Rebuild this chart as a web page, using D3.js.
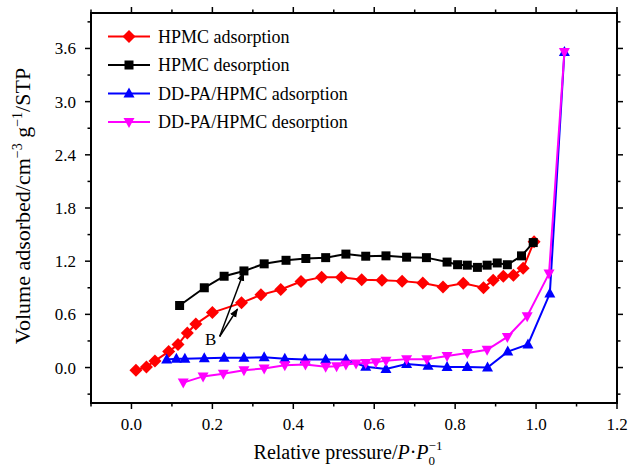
<!DOCTYPE html>
<html>
<head>
<meta charset="utf-8">
<script src="https://cdn.jsdelivr.net/npm/d3@7"></script>
<style>
  body { margin: 0; background: #fff; }
  svg text { font-family: "Liberation Serif", "Times New Roman", serif; }
</style>
</head>
<body>
<div id="chart"></div>
<script>
// relative pressure (x) and volume adsorbed (y)
const hpmcAdsX = [0.011, 0.037, 0.058, 0.092, 0.115, 0.138, 0.159, 0.2, 0.272, 0.32, 0.369, 0.419, 0.47, 0.519, 0.569, 0.619, 0.669, 0.72, 0.77, 0.82, 0.87, 0.894, 0.919, 0.944, 0.968, 0.995];
const hpmcAdsY = [-0.03, 0.007, 0.075, 0.18, 0.26, 0.39, 0.49, 0.62, 0.73, 0.82, 0.88, 0.97, 1.02, 1.02, 0.99, 0.985, 0.975, 0.955, 0.91, 0.95, 0.90, 0.985, 1.03, 1.04, 1.12, 1.42];

const hpmcDesX = [0.119, 0.18, 0.229, 0.278, 0.328, 0.382, 0.431, 0.48, 0.53, 0.579, 0.629, 0.68, 0.729, 0.78, 0.806, 0.83, 0.855, 0.879, 0.904, 0.929, 0.964, 0.993];
const hpmcDesY = [0.70, 0.90, 1.03, 1.09, 1.17, 1.21, 1.23, 1.24, 1.28, 1.256, 1.26, 1.245, 1.24, 1.19, 1.16, 1.155, 1.13, 1.155, 1.18, 1.16, 1.26, 1.41];

const ddAdsX = [0.087, 0.111, 0.132, 0.18, 0.229, 0.278, 0.328, 0.379, 0.429, 0.48, 0.53, 0.579, 0.629, 0.68, 0.733, 0.78, 0.83, 0.88, 0.93, 0.98, 1.034, 1.07];
const ddAdsY = [0.09, 0.10, 0.10, 0.105, 0.11, 0.11, 0.115, 0.10, 0.09, 0.09, 0.09, 0.01, -0.015, 0.04, 0.02, 0.007, 0.007, 0.0, 0.18, 0.26, 0.835, 3.56];

const ddDesX = [0.128, 0.177, 0.227, 0.278, 0.328, 0.379, 0.43, 0.48, 0.507, 0.53, 0.555, 0.579, 0.604, 0.629, 0.68, 0.73, 0.78, 0.83, 0.879, 0.929, 0.978, 1.032, 1.07];
const ddDesY = [-0.17, -0.10, -0.07, -0.03, -0.01, 0.026, 0.035, 0.01, 0.015, 0.035, 0.045, 0.05, 0.06, 0.078, 0.095, 0.095, 0.13, 0.165, 0.20, 0.345, 0.58, 1.06, 3.56];

const seriesNames = ['HPMC adsorption', 'HPMC desorption', 'DD-PA/HPMC adsorption', 'DD-PA/HPMC desorption'];
const seriesColors = ['#ff0000', '#000000', '#0000ff', '#ff00ff'];
const seriesMarkers = ['diamond', 'square', 'up', 'down'];

const xTicks = [0.0, 0.2, 0.4, 0.6, 0.8, 1.0, 1.2];
const yTicks = [0.0, 0.6, 1.2, 1.8, 2.4, 3.0, 3.6];

const W = 628, H = 472;
const margin = { left: 91, right: 11, top: 13, bottom: 69 };

const svg = d3.select('#chart').append('svg')
  .attr('width', W).attr('height', H);

const x = d3.scaleLinear().domain([-0.1, 1.2]).range([margin.left, W - margin.right]);
const y = d3.scaleLinear().domain([-0.4, 4.0]).range([H - margin.bottom, margin.top]);

const series = [
  { xs: hpmcAdsX, ys: hpmcAdsY },
  { xs: hpmcDesX, ys: hpmcDesY },
  { xs: ddAdsX, ys: ddAdsY },
  { xs: ddDesX, ys: ddDesY }
].map((s, i) => ({
  name: seriesNames[i], color: seriesColors[i], marker: seriesMarkers[i],
  pts: s.xs.map((v, j) => [v, s.ys[j]])
}));

function markerPath(kind) {
  if (kind === 'diamond') return 'M0,-6.5L6.5,0L0,6.5L-6.5,0Z';
  if (kind === 'square') return 'M-4.5,-4.5H4.5V4.5H-4.5Z';
  if (kind === 'up') return 'M0,-6L5.5,4L-5.5,4Z';
  return 'M0,6L5.5,-4L-5.5,-4Z';
}

// axes (ticks outward on all four sides)
const xMinor = d3.range(-0.1, 1.201, 0.1);
const yMinor = d3.range(-0.3, 3.91, 0.3);

const axisG = svg.append('g');
const bottomY = y.range()[0], topY = y.range()[1];
const leftX = x.range()[0], rightX = x.range()[1];

xMinor.forEach(v => {
  const major = xTicks.some(t => Math.abs(t - v) < 1e-6);
  const len = major ? 6 : 3.5;
  axisG.append('line').attr('x1', x(v)).attr('x2', x(v)).attr('y1', bottomY).attr('y2', bottomY + len)
    .attr('stroke', '#000').attr('stroke-width', 1.5);
  axisG.append('line').attr('x1', x(v)).attr('x2', x(v)).attr('y1', topY).attr('y2', topY - len)
    .attr('stroke', '#000').attr('stroke-width', 1.5);
});
yMinor.forEach(v => {
  const major = yTicks.some(t => Math.abs(t - v) < 1e-6);
  const len = major ? 6 : 3.5;
  axisG.append('line').attr('y1', y(v)).attr('y2', y(v)).attr('x1', leftX).attr('x2', leftX - len)
    .attr('stroke', '#000').attr('stroke-width', 1.5);
  axisG.append('line').attr('y1', y(v)).attr('y2', y(v)).attr('x1', rightX).attr('x2', rightX + len)
    .attr('stroke', '#000').attr('stroke-width', 1.5);
});

axisG.append('rect')
  .attr('x', leftX).attr('y', topY)
  .attr('width', rightX - leftX).attr('height', bottomY - topY)
  .attr('fill', 'none').attr('stroke', '#000').attr('stroke-width', 2);

axisG.selectAll('.xl').data(xTicks).enter().append('text')
  .attr('x', d => x(d)).attr('y', bottomY + 27)
  .attr('text-anchor', 'middle').attr('font-size', 17)
  .text(d => d.toFixed(1));

axisG.selectAll('.yl').data(yTicks).enter().append('text')
  .attr('x', leftX - 15).attr('y', d => y(d) + 6)
  .attr('text-anchor', 'end').attr('font-size', 17)
  .text(d => d.toFixed(1));

// axis titles
const xt = svg.append('text')
  .attr('x', 348).attr('y', 459).attr('text-anchor', 'middle').attr('font-size', 20);
xt.append('tspan').text('Relative pressure/');
xt.append('tspan').attr('font-style', 'italic').text('P');
xt.append('tspan').text('·');
xt.append('tspan').attr('font-style', 'italic').text('P');
xt.append('tspan').attr('font-size', 13).attr('dy', 6).text('0');
xt.append('tspan').attr('font-size', 13).attr('dx', -6.5).attr('dy', -15).text('−1');

const yt = svg.append('text')
  .attr('transform', 'translate(30,' + (topY + 193) + ') rotate(-90)')
  .attr('text-anchor', 'middle').attr('font-size', 22);
yt.append('tspan').text('Volume  adsorbed/cm');
yt.append('tspan').attr('font-size', 14).attr('dy', -8).text('−3');
yt.append('tspan').attr('dy', 8).text(' g');
yt.append('tspan').attr('font-size', 14).attr('dy', -8).text('−1');
yt.append('tspan').attr('dy', 8).text('/STP');

// series
const line = d3.line().x(d => x(d[0])).y(d => y(d[1]));
series.forEach(s => {
  const g = svg.append('g');
  g.append('path').datum(s.pts).attr('d', line)
    .attr('fill', 'none').attr('stroke', s.color).attr('stroke-width', 2);
  g.selectAll('path.m').data(s.pts).enter().append('path')
    .attr('class', 'm')
    .attr('d', markerPath(s.marker))
    .attr('transform', d => 'translate(' + x(d[0]) + ',' + y(d[1]) + ')')
    .attr('fill', s.color);
});

// annotation B with two arrows
const defs = svg.append('defs');
defs.append('marker').attr('id', 'arr').attr('viewBox', '0 0 10 10')
  .attr('refX', 9).attr('refY', 5).attr('markerWidth', 6).attr('markerHeight', 6)
  .attr('orient', 'auto-start-reverse')
  .append('path').attr('d', 'M0,1L10,5L0,9Z').attr('fill', '#000');

const bFrom = [0.218, 0.35];
const bTargets = [[0.277, 1.07], [0.262, 0.66]];
bTargets.forEach(t => {
  svg.append('line')
    .attr('x1', x(bFrom[0])).attr('y1', y(bFrom[1]))
    .attr('x2', x(t[0])).attr('y2', y(t[1]))
    .attr('stroke', '#000').attr('stroke-width', 1.5)
    .attr('marker-end', 'url(#arr)');
});
svg.append('text').attr('x', x(0.182)).attr('y', y(0.26))
  .attr('font-size', 17).text('B');

// legend
const legend = svg.append('g');
series.forEach((s, i) => {
  const ly = 36.5 + i * 28.5;
  legend.append('line').attr('x1', 108).attr('x2', 150).attr('y1', ly).attr('y2', ly)
    .attr('stroke', s.color).attr('stroke-width', 2);
  legend.append('path').attr('d', markerPath(s.marker))
    .attr('transform', 'translate(129,' + ly + ')').attr('fill', s.color);
  legend.append('text').attr('x', 158).attr('y', ly + 6)
    .attr('font-size', 18).text(s.name);
});
</script>
</body>
</html>
